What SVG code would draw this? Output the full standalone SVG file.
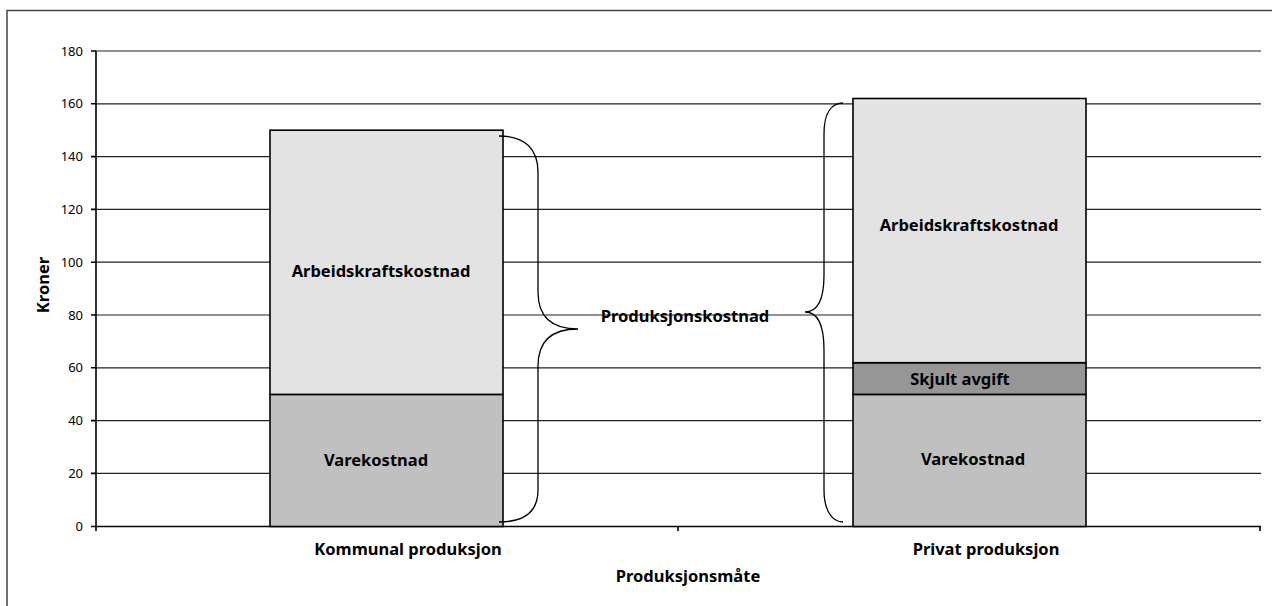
<svg xmlns="http://www.w3.org/2000/svg" width="1272" height="606" viewBox="0 0 1272 606">
<style>
text{font-family:"Noto Sans","Open Sans","Liberation Sans",sans-serif;fill:#000}
.tick{font-size:13px;text-anchor:end}
.lbl{font-size:16.5px;font-weight:bold;text-anchor:middle}
.grid{stroke:#222;stroke-width:1.2;fill:none}
.axis{stroke:#000;stroke-width:1.6;fill:none}
.bar{stroke:#000;stroke-width:1.6}
.brace{stroke:#000;stroke-width:1.3;fill:none}
</style>
<rect x="0" y="0" width="1272" height="606" fill="#fff"/>
<path d="M7,620 V10.5 H1280" fill="none" stroke="#444" stroke-width="1.5"/>
<g id="grid">
<path class="grid" d="M96,51 H1261 M96,103.8 H1261 M96,156.6 H1261 M96,209.4 H1261 M96,262.2 H1261 M96,315 H1261 M96,367.8 H1261 M96,420.6 H1261 M96,473.4 H1261"/>
</g>
<g id="axes">
<path class="axis" d="M96,51 V531 M91,51 H96 M91,103.8 H96 M91,156.6 H96 M91,209.4 H96 M91,262.2 H96 M91,315 H96 M91,367.8 H96 M91,420.6 H96 M91,473.4 H96 M91,526.5 H96 M96,526.5 H1261 M678,526.5 V531 M1260,526.5 V531"/>
<text class="tick" x="83" y="55.5">180</text>
<text class="tick" x="83" y="108.3">160</text>
<text class="tick" x="83" y="161.1">140</text>
<text class="tick" x="83" y="213.9">120</text>
<text class="tick" x="83" y="266.7">100</text>
<text class="tick" x="83" y="319.5">80</text>
<text class="tick" x="83" y="372.3">60</text>
<text class="tick" x="83" y="425.1">40</text>
<text class="tick" x="83" y="477.9">20</text>
<text class="tick" x="83" y="531">0</text>
<text class="lbl" transform="translate(49,285) rotate(-90)">Kroner</text>
<text class="lbl" x="408" y="555">Kommunal produksjon</text>
<text class="lbl" x="986" y="555">Privat produksjon</text>
<text class="lbl" x="688" y="582">Produksjonsmåte</text>
</g>
<g id="bar-kommunal">
<rect class="bar" x="270" y="394.4" width="233" height="132.1" fill="#c0c0c0"/>
<rect class="bar" x="270" y="130.2" width="233" height="264.2" fill="#e3e3e3"/>
<text class="lbl" x="381" y="277">Arbeidskraftskostnad</text>
<text class="lbl" x="376" y="466">Varekostnad</text>
</g>
<g id="bar-privat">
<rect class="bar" x="853" y="394.4" width="233" height="132.1" fill="#c0c0c0"/>
<rect class="bar" x="853" y="362.7" width="233" height="31.7" fill="#969696"/>
<rect class="bar" x="853" y="98.5" width="233" height="264.2" fill="#e3e3e3"/>
<text class="lbl" x="969" y="231">Arbeidskraftskostnad</text>
<text class="lbl" x="960" y="385">Skjult avgift</text>
<text class="lbl" x="973" y="465">Varekostnad</text>
</g>
<g id="connectors">
<path class="brace" d="M499,136 C526,136 538,150 538,172 V292 C538,318 552,329 578,329 C552,329 538,340 538,366 V490 C538,510 526,522 499,522"/>
<path class="brace" d="M843,103 C832,103 824,112 824,134 V275 C824,300 818,312 805,312 C818,312 824,324 824,350 V490 C824,510 832,522 843,522"/>
</g>
<g id="label-produksjonskostnad">
<text class="lbl" x="685" y="322">Produksjonskostnad</text>
</g>
</svg>
